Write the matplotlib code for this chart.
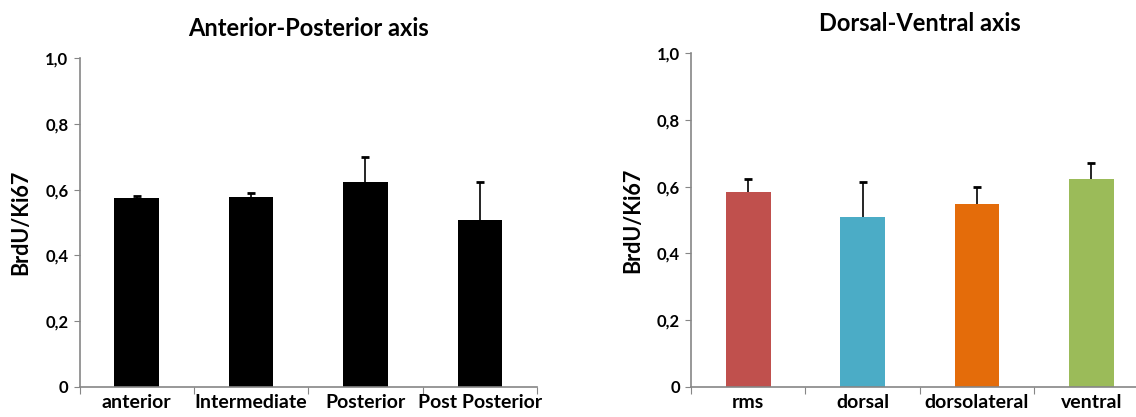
import matplotlib
matplotlib.use("Agg")
import matplotlib.pyplot as plt
import numpy as np

plt.rcParams["font.family"] = ["Lato", "DejaVu Sans"]
plt.rcParams["font.weight"] = "bold"

# Anterior-Posterior axis
ap_labels = ["anterior", "Intermediate", "Posterior", "Post Posterior"]
ap_values = [0.573, 0.576, 0.622, 0.507]
ap_err = [0.007, 0.013, 0.078, 0.116]

# Dorsal-Ventral axis
dv_labels = ["rms", "dorsal", "dorsolateral", "ventral"]
dv_values = [0.584, 0.510, 0.549, 0.622]
dv_err = [0.038, 0.105, 0.050, 0.049]
dv_colors = ["#C0504D", "#4BACC6", "#E46C0A", "#9BBB59"]

yticks = [0, 0.2, 0.4, 0.6, 0.8, 1.0]
ytick_labels = ["0", "0,2", "0,4", "0,6", "0,8", "1,0"]

AXIS_GRAY = "#868686"


def draw_panel(ax, labels, values, err, colors, title):
    x = np.arange(len(labels))
    values = np.array(values)
    err = np.array(err)
    ax.bar(x, values, width=0.39, color=colors, zorder=2)
    # upper error bars only (no cap at the bar top)
    ax.vlines(x, values, values + err, color="black", linewidth=1.2, zorder=3)
    ax.plot(x, values + err, linestyle="none", marker="_", markersize=6,
            markeredgewidth=2, color="black", zorder=3)
    ax.set_xlim(-0.5, len(labels) - 0.5)
    ax.set_ylim(0, 1.0)
    ax.set_yticks(yticks)
    ax.set_yticklabels(ytick_labels, fontsize=12, fontweight="bold")
    ax.set_xticks(np.arange(len(labels) + 1) - 0.5)
    ax.set_xticklabels([])
    ax.set_xticks(x, minor=True)
    ax.set_xticklabels(labels, minor=True, fontsize=14, fontweight="bold")
    ax.tick_params(axis="x", which="minor", length=0, pad=5)
    ax.tick_params(axis="x", which="major", length=5, color=AXIS_GRAY, direction="out")
    ax.tick_params(axis="y", length=4, color=AXIS_GRAY, direction="out", pad=4)
    for s in ["top", "right"]:
        ax.spines[s].set_visible(False)
    for s in ["left", "bottom"]:
        ax.spines[s].set_color(AXIS_GRAY)
        ax.spines[s].set_linewidth(1.2)
    ax.set_ylabel("BrdU/Ki67", fontsize=15.5, fontweight="bold", labelpad=10)
    ax.set_title(title, fontsize=17, fontweight="bold", pad=16)


fig = plt.figure(figsize=(11.36, 4.17), dpi=100)
ax1 = fig.add_axes([0.070, 0.072, 0.4027, 0.789])
ax2 = fig.add_axes([0.6083, 0.072, 0.4027, 0.801])

draw_panel(ax1, ap_labels, ap_values, ap_err, "black", "Anterior-Posterior axis")
draw_panel(ax2, dv_labels, dv_values, dv_err, dv_colors, "Dorsal-Ventral axis")

fig.savefig("out.png", dpi=100)
